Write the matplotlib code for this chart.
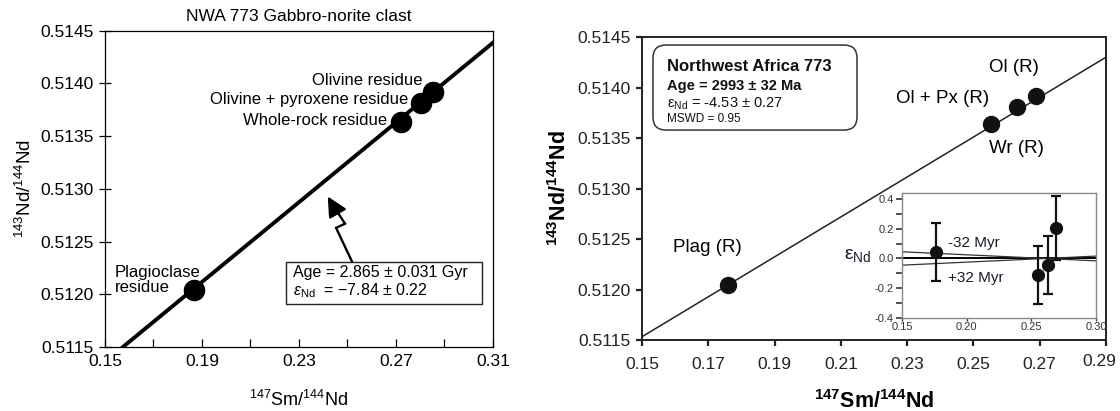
import matplotlib
matplotlib.use("Agg")
import matplotlib.pyplot as plt
import matplotlib.transforms as mtransforms
from matplotlib.patches import Rectangle, FancyBboxPatch
from matplotlib.ticker import MultipleLocator
import numpy as np

plt.rcParams['font.family'] = ['Liberation Sans', 'DejaVu Sans']
plt.rcParams['mathtext.fontset'] = 'custom'
plt.rcParams['mathtext.rm'] = 'Liberation Sans'
plt.rcParams['mathtext.it'] = 'Liberation Sans:italic'
plt.rcParams['mathtext.bf'] = 'Liberation Sans:bold'
plt.rcParams['axes.unicode_minus'] = False

# ---- left panel: NWA 773 gabbro-norite clast
left_names = ["Plagioclase\nresidue", "Whole-rock residue",
              "Olivine + pyroxene residue", "Olivine residue"]
left_sm = [0.1868, 0.2721, 0.2802, 0.2854]
left_nd = [0.51204, 0.51363, 0.51381, 0.51392]
left_slope = 0.01891        # 2.865 Gyr isochron
left_icpt = 0.508524
left_line_x = [0.1574, 0.31]

# ---- right panel: Northwest Africa 773
right_names = ["Plag (R)", "Wr (R)", "Ol + Px (R)", "Ol (R)"]
right_sm = [0.1759, 0.2553, 0.2632, 0.2688]
right_nd = [0.512047, 0.513638, 0.513804, 0.51392]
right_slope = 0.01977       # 2993 Ma isochron
right_icpt = 0.508567
right_line_x = [0.15, 0.29]

# inset: epsilon Nd deviations from isochron
eps_nd = [0.045, -0.11, -0.044, 0.207]
eps_err = [0.195, 0.197, 0.197, 0.216]
eps_line_x = [0.15, 0.30]
minus32 = [0.045, -0.016]
plus32 = [-0.045, 0.016]

fig = plt.figure(figsize=(11.2, 4.11), dpi=100)

# ================= left
ax1 = fig.add_axes([0.09375, 0.1557, 0.3464, 0.7696])
lx = np.array(left_line_x)
ax1.plot(lx, left_icpt + left_slope*lx, color='black', lw=2.8, zorder=2)
ax1.plot(left_sm, left_nd, 'o', color='black', ms=14.5, zorder=3)
ax1.set_xlim(0.15, 0.31)
ax1.set_ylim(0.5115, 0.5145)
ax1.set_xticks([0.15, 0.19, 0.23, 0.27, 0.31])
ax1.set_xticklabels(['0.15', '0.19', '0.23', '0.27', '0.31'])
ax1.set_xticks([0.17, 0.21, 0.25, 0.29], minor=True)
ax1.set_yticks([0.5115, 0.5120, 0.5125, 0.5130, 0.5135, 0.5140, 0.5145])
ax1.yaxis.set_major_formatter(matplotlib.ticker.FormatStrFormatter('%.4f'))
ax1.tick_params(axis='x', which='both', direction='in', length=6, width=0.9,
                labelsize=12.5, pad=5)
ax1.tick_params(axis='y', direction='inout', length=8, width=0.9,
                labelsize=12.5, pad=4)
for s in ax1.spines.values():
    s.set_linewidth(0.9)
ax1.set_title("NWA 773 Gabbro-norite clast", fontsize=12.5, pad=7)
ax1.set_xlabel(r'$\mathrm{^{147}}$Sm/$\mathrm{^{144}}$Nd', fontsize=13, labelpad=15)
ax1.set_ylabel(r'$\mathrm{^{143}}$Nd/$\mathrm{^{144}}$Nd', fontsize=13.5, labelpad=4)

ax1.text(0.1541, 0.512136, left_names[0], fontsize=12, ha='left', va='center',
         linespacing=1.05)
ax1.text(0.2663, 0.513653, left_names[1], fontsize=12, ha='right', va='center')
ax1.text(0.2749, 0.513843, left_names[2], fontsize=12, ha='right', va='center')
ax1.text(0.2811, 0.514023, left_names[3], fontsize=12, ha='right', va='center')

# zigzag arrow pointing at the isochron
zz_x = [0.2531, 0.2453, 0.2490, 0.2444]
zz_y = [0.51225, 0.51263, 0.51267, 0.51283]
ax1.plot(zz_x, zz_y, color='black', lw=1.7, solid_joinstyle='miter')
ax1.annotate('', xy=(0.2413, 0.51295), xytext=(0.2448, 0.51281),
             arrowprops=dict(arrowstyle='-|>,head_length=1.2,head_width=0.6',
                             color='black', lw=1.7))

ax1.add_patch(Rectangle((0.4665, 0.136), 0.505, 0.1327, transform=ax1.transAxes,
                        fill=True, facecolor='white', edgecolor='#222',
                        lw=1.0, zorder=4))
ax1.text(0.4845, 0.234, 'Age = 2.865 ± 0.031 Gyr', transform=ax1.transAxes,
         fontsize=11.5, va='center', zorder=5)
ax1.text(0.4845, 0.1795, r'$\mathit{ε}_{\mathrm{Nd}}$  = −7.84 ± 0.22',
         transform=ax1.transAxes, fontsize=11.5, va='center', zorder=5)

# ================= right
ax2 = fig.add_axes([0.5732, 0.1727, 0.4143, 0.7372])
rx = np.array(right_line_x)
ax2.plot(rx, right_icpt + right_slope*rx, color='#222', lw=1.1, zorder=2)
ax2.plot(right_sm, right_nd, 'o', color='#111', ms=11.5, zorder=3)
ax2.set_xlim(0.15, 0.29)
ax2.set_ylim(0.5115, 0.5145)
ax2.set_xticks(np.arange(0.15, 0.2901, 0.02))
ax2.set_xticklabels(['0.15', '0.17', '0.19', '0.21', '0.23', '0.25', '0.27', '0.29'])
ax2.set_yticks([0.5115, 0.5120, 0.5125, 0.5130, 0.5135, 0.5140, 0.5145])
ax2.yaxis.set_major_formatter(matplotlib.ticker.FormatStrFormatter('%.4f'))
ax2.tick_params(axis='x', direction='out', length=4, width=1.6, labelsize=12.5,
                pad=8, colors='#222')
ax2.tick_params(axis='y', direction='out', length=4, width=1.6, labelsize=12.5,
                pad=4, colors='#222')
# last x label sits a little left and higher, as in the original figure
last = ax2.get_xticklabels()[-1]
last.set_transform(last.get_transform() +
                   mtransforms.ScaledTranslation(-5/72, 2/72, fig.dpi_scale_trans))
for s in ax2.spines.values():
    s.set_linewidth(1.4)
    s.set_color('#222')
ax2.set_xlabel(r'$\mathbf{^{147}Sm/^{144}Nd}$', fontsize=15.5, labelpad=13)
ax2.set_ylabel(r'$\mathbf{^{143}Nd/^{144}Nd}$', fontsize=15.5, labelpad=5)

ax2.text(0.1698, 0.512421, right_names[0], fontsize=13.5, ha='center', va='center')
ax2.text(0.2630, 0.513401, right_names[1], fontsize=13.5, ha='center', va='center')
ax2.text(0.2407, 0.513896, right_names[2], fontsize=13.5, ha='center', va='center')
ax2.text(0.2621, 0.514203, right_names[3], fontsize=13.5, ha='center', va='center')

ax2.add_patch(FancyBboxPatch((0.0237, 0.693), 0.4397, 0.2806,
                             boxstyle='round,pad=0,rounding_size=0.028',
                             mutation_aspect=464/303, transform=ax2.transAxes,
                             facecolor='white', edgecolor='#333', lw=1.1, zorder=4))
ax2.text(0.053, 0.903, 'Northwest Africa 773', transform=ax2.transAxes,
         fontsize=12, fontweight='bold', va='center', color='#111', zorder=5)
ax2.text(0.053, 0.839, 'Age = 2993 ± 32 Ma', transform=ax2.transAxes,
         fontsize=10.5, fontweight='bold', va='center', color='#111', zorder=5)
ax2.text(0.053, 0.781, r'ε$_{\mathrm{Nd}}$ = -4.53 ± 0.27', transform=ax2.transAxes,
         fontsize=10.5, va='center', color='#111', zorder=5)
ax2.text(0.053, 0.730, 'MSWD = 0.95', transform=ax2.transAxes,
         fontsize=8.5, va='center', color='#111', zorder=5)

# ================= inset
ax3 = fig.add_axes([0.8054, 0.2263, 0.1732, 0.3041])
ax3.set_xlim(0.15, 0.30)
ax3.set_ylim(-0.4, 0.44)
ex = np.array(eps_line_x)
ax3.plot(ex, [0, 0], color='black', lw=1.4, zorder=2)
ax3.plot(ex, minus32, color='#333', lw=0.9, zorder=2)
ax3.plot(ex, plus32, color='#333', lw=0.9, zorder=2)
ax3.errorbar(right_sm, eps_nd, yerr=eps_err, fmt='o', color='#111', ms=8.5,
             elinewidth=1.6, capsize=3.5, capthick=1.6, zorder=3)
ax3.text(0.1856, 0.104, '-32 Myr', fontsize=11, va='center', color='#1a1a2a')
ax3.text(0.1856, -0.131, '+32 Myr', fontsize=11, va='center', color='#1a1a2a')
ax3.set_xticks([0.15, 0.20, 0.25, 0.30])
ax3.set_xticklabels(['0.15', '0.20', '0.25', '0.30'])
ax3.set_yticks([-0.4, -0.2, 0.0, 0.2, 0.4])
ax3.set_yticklabels(['-0.4', '-0.2', '0.0', '0.2', '0.4'])
ax3.yaxis.set_minor_locator(MultipleLocator(0.1))
ax3.tick_params(axis='y', which='both', direction='out', length=4, width=1.2,
                labelsize=8, pad=2, colors='#333')
ax3.tick_params(axis='x', direction='out', length=2, width=1.0, labelsize=8,
                pad=1, colors='#333')
for s in ax3.spines.values():
    s.set_linewidth(1.0)
    s.set_color('#888')
ax3.set_ylabel(r'ε$_{\mathrm{Nd}}$', fontsize=14, rotation=0, labelpad=12,
               va='center', color='#1a1a2a')

fig.savefig('out.png', dpi=100)
